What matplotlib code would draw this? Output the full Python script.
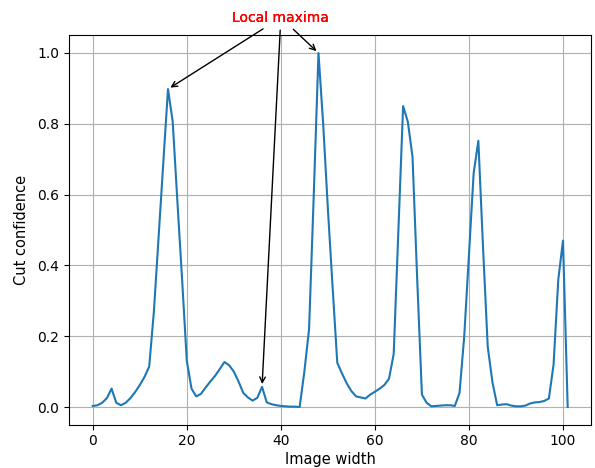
import numpy as np
import matplotlib.pyplot as plt

# image width positions (columns)
x_pos = list(range(102))

# cut confidence per column
confidence = [
    0.003, 0.005, 0.012, 0.025, 0.052, 0.012, 0.005, 0.012, 0.025, 0.042,
    0.062, 0.085, 0.114, 0.27, 0.48, 0.69, 0.898, 0.806, 0.58, 0.36,
    0.13, 0.052, 0.03, 0.037, 0.055, 0.072, 0.088, 0.107, 0.127, 0.118,
    0.1, 0.072, 0.04, 0.027, 0.018, 0.026, 0.057, 0.013, 0.008, 0.005,
    0.003, 0.002, 0.001, 0.001, 0.0, 0.1, 0.22, 0.6, 1.0, 0.8,
    0.56, 0.34, 0.125, 0.095, 0.067, 0.045, 0.03, 0.027, 0.024, 0.035,
    0.043, 0.052, 0.062, 0.08, 0.15, 0.5, 0.85, 0.806, 0.707, 0.36,
    0.035, 0.012, 0.002, 0.003, 0.004, 0.005, 0.005, 0.003, 0.04, 0.2,
    0.43, 0.66, 0.752, 0.45, 0.17, 0.07, 0.005, 0.007, 0.008, 0.004,
    0.002, 0.002, 0.004, 0.01, 0.013, 0.014, 0.017, 0.024, 0.12, 0.36,
    0.47, 0.0,
]

# columns pointed to by the annotation
maxima_idx = [16, 36, 48]
label_text = 'Local maxima'
label_pos = (40, 1.1)


def draw():
    fig = plt.figure(figsize=(5.95, 4.68), dpi=100)
    ax = fig.add_subplot(111)
    fig.subplots_adjust(left=0.116, right=0.994, bottom=0.0925, top=0.9246)

    ax.plot(x_pos, confidence, color='tab:blue')
    ax.grid(True)
    # reference crops this label at the bottom edge; keep it just inside
    ax.set_xlabel('Image width', fontsize=10.5, labelpad=2.5)
    ax.set_ylabel('Cut confidence', fontsize=10.5, labelpad=6)

    # same text for every arrow, so the labels stack on top of each other
    for i in maxima_idx:
        ax.annotate(label_text, xy=(x_pos[i], confidence[i]), xytext=label_pos,
                    ha='center', va='center', color='red',
                    arrowprops=dict(arrowstyle='->', color='black'),
                    annotation_clip=False)

    fig.savefig('out.png', dpi=100)


if __name__ == "__main__":
    draw()
